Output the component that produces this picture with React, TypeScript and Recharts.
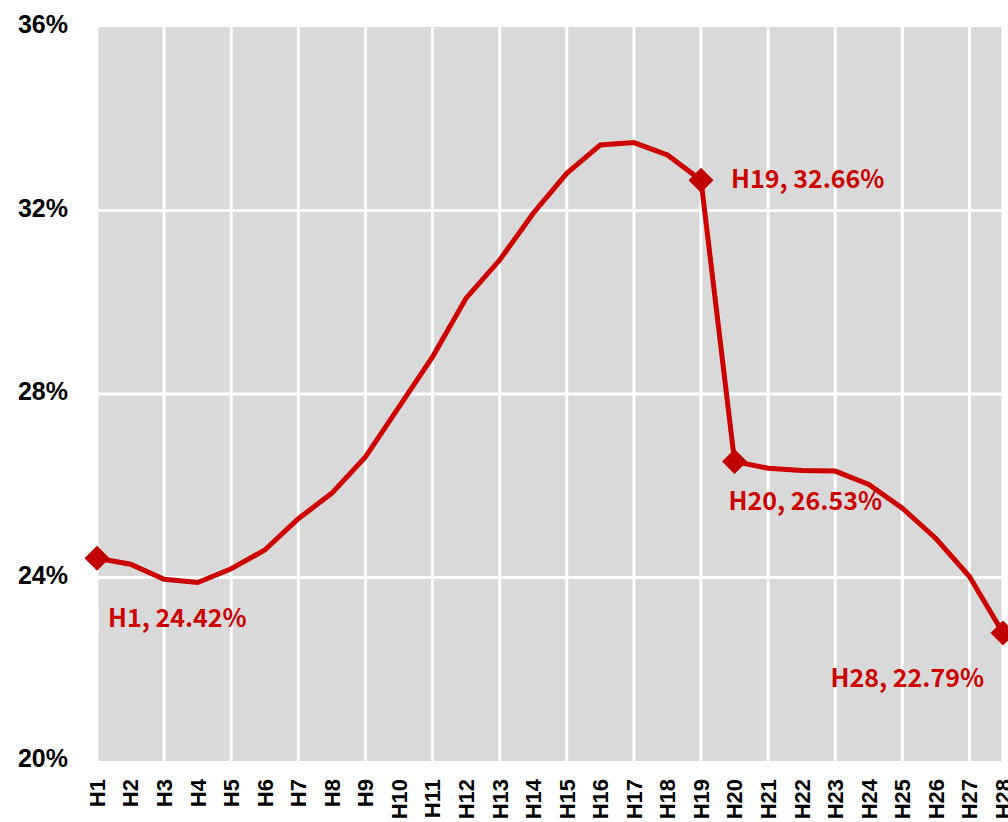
import React from 'react';
import { LineChart, Line, XAxis, YAxis, CartesianGrid } from 'recharts';

const categories = [
  'H1', 'H2', 'H3', 'H4', 'H5', 'H6', 'H7', 'H8', 'H9', 'H10',
  'H11', 'H12', 'H13', 'H14', 'H15', 'H16', 'H17', 'H18', 'H19', 'H20',
  'H21', 'H22', 'H23', 'H24', 'H25', 'H26', 'H27', 'H28',
];
const rates = [
  24.42, 24.29, 23.96, 23.89, 24.19, 24.6, 25.28, 25.84, 26.63, 27.72,
  28.81, 30.09, 30.92, 31.94, 32.81, 33.43, 33.48, 33.21, 32.66, 26.53,
  26.38, 26.33, 26.32, 26.03, 25.51, 24.85, 24.02, 22.79,
];
const yTicks = [20, 24, 28, 32, 36];
const gridXTicks = ['H3', 'H5', 'H7', 'H9', 'H11', 'H13', 'H15', 'H17', 'H19', 'H21', 'H23', 'H25', 'H27'];
const highlighted = ['H1', 'H19', 'H20', 'H28'];

// label placement relative to the marker (style only)
const labelPlacement: Record<string, { dx: number; dy: number; anchor: 'start' | 'end' }> = {
  H1: { dx: 11, dy: 69, anchor: 'start' },
  H19: { dx: 30, dy: 8, anchor: 'start' },
  H20: { dx: -6, dy: 49, anchor: 'start' },
  H28: { dx: -19, dy: 54, anchor: 'end' },
};

const data = categories.map((name, i) => ({ name, rate: rates[i] }));

const RED = '#cc0000';
const MARK = '#c00000';
const LABEL_FONT = '"Noto Sans CJK JP", "Noto Sans", sans-serif';
const AXIS_FONT = '"Liberation Sans", Arial, sans-serif';

const XTick = (props: any) => {
  const { x, y, payload } = props;
  const ty = y + 18;
  return (
    <text
      x={x}
      y={ty}
      transform={`rotate(-90, ${x}, ${ty})`}
      textAnchor="end"
      dy="0.36em"
      fontFamily={AXIS_FONT}
      fontWeight={700}
      fontSize={22}
      fill="#000"
    >
      {payload.value}
    </text>
  );
};

const YTick = (props: any) => {
  const { x, y, payload } = props;
  return (
    <text
      x={x - 29}
      y={y}
      textAnchor="end"
      dy="0.25em"
      fontFamily={AXIS_FONT}
      fontWeight={700}
      fontSize={25}
      fill="#000"
    >
      {`${payload.value}%`}
    </text>
  );
};

const HLine = (props: any) => {
  const { x1, y1, x2, y2, index } = props;
  const key = props.key ?? `h${index}`;
  if (index === 0 || index === yTicks.length - 1) return <g key={key} />;
  return <line key={key} x1={x1} y1={y1} x2={x2} y2={y2} stroke="#ffffff" strokeWidth={3} />;
};

const Dot = (props: any) => {
  const { cx, cy, payload, index } = props;
  if (!highlighted.includes(payload.name)) return <g key={`d${index}`} />;
  const r = 12.5;
  const p = labelPlacement[payload.name];
  return (
    <g key={`d${index}`}>
      <polygon
        points={`${cx},${cy - r} ${cx + r},${cy} ${cx},${cy + r} ${cx - r},${cy}`}
        fill={MARK}
      />
      <text
        x={cx + p.dx}
        y={cy + p.dy}
        textAnchor={p.anchor}
        fontFamily={LABEL_FONT}
        fontWeight={700}
        fontSize={25}
        fill={RED}
      >
        {`${payload.name}, ${payload.rate.toFixed(2)}%`}
      </text>
    </g>
  );
};

export default function App() {
  return (
    <div style={{ position: 'absolute', left: 0, top: 0, width: 1008, height: 822, background: '#fff' }}>
      <LineChart
        width={1008}
        height={822}
        data={data}
        margin={{ top: 27, right: 5, bottom: 0, left: 0 }}
      >
        <XAxis xAxisId="grid" dataKey="name" ticks={gridXTicks} hide />
        <CartesianGrid
          xAxisId="grid"
          fill="#d9d9d9"
          fillOpacity={1}
          stroke="#ffffff"
          strokeWidth={3}
          strokeDasharray=""
          horizontal={HLine}
        />
        <XAxis
          dataKey="name"
          interval={0}
          height={61}
          axisLine={false}
          tickLine={false}
          tickSize={0}
          tickMargin={0}
          tick={<XTick />}
        />
        <YAxis
          type="number"
          domain={[20, 36]}
          ticks={yTicks}
          width={97}
          axisLine={false}
          tickLine={false}
          tickSize={0}
          tickMargin={0}
          tick={<YTick />}
        />
        <Line
          type="linear"
          dataKey="rate"
          stroke={RED}
          strokeWidth={5}
          dot={Dot}
          activeDot={false}
          isAnimationActive={false}
        />
      </LineChart>
    </div>
  );
}
